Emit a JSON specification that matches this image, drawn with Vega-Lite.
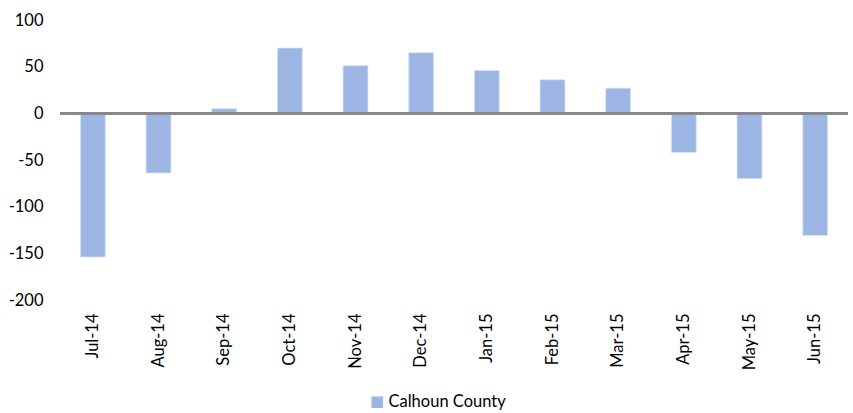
{
  "$schema": "https://vega.github.io/schema/vega-lite/v6.json",
  "width": 788,
  "height": 280,
  "autosize": {"type": "none"},
  "padding": {"left": 60, "top": 20, "right": 5, "bottom": 113},
  "background": "white",
  "config": {
    "view": {"stroke": null},
    "font": "Lato"
  },
  "data": {
    "values": [
      {"month": "Jul-14", "value": -154, "series": "Calhoun County"},
      {"month": "Aug-14", "value": -64, "series": "Calhoun County"},
      {"month": "Sep-14", "value": 5, "series": "Calhoun County"},
      {"month": "Oct-14", "value": 70, "series": "Calhoun County"},
      {"month": "Nov-14", "value": 51, "series": "Calhoun County"},
      {"month": "Dec-14", "value": 65, "series": "Calhoun County"},
      {"month": "Jan-15", "value": 46, "series": "Calhoun County"},
      {"month": "Feb-15", "value": 36, "series": "Calhoun County"},
      {"month": "Mar-15", "value": 27, "series": "Calhoun County"},
      {"month": "Apr-15", "value": -42, "series": "Calhoun County"},
      {"month": "May-15", "value": -70, "series": "Calhoun County"},
      {"month": "Jun-15", "value": -131, "series": "Calhoun County"}
    ]
  },
  "layer": [
    {
      "mark": {"type": "bar", "stroke": "#dce6f6", "strokeWidth": 0.8},
      "encoding": {
        "x": {
          "field": "month", "type": "nominal", "sort": null,
          "scale": {"paddingInner": 0.62, "paddingOuter": 0.31},
          "axis": {"title": null, "labelAngle": -90, "domain": false, "ticks": false, "labelPadding": 13, "labelFontSize": 16.5, "labelColor": "#000000", "labelFont": "Lato"}
        },
        "y": {
          "field": "value", "type": "quantitative",
          "scale": {"domain": [-200, 100], "nice": false},
          "axis": {"title": null, "values": [-200, -150, -100, -50, 0, 50, 100], "labelExpr": "replace(datum.label, '\u2212', '-')", "grid": false, "domain": false, "ticks": false, "labelPadding": 17, "labelFontSize": 16.5, "labelColor": "#000000", "labelFont": "Lato"}
        },
        "color": {
          "field": "series", "type": "nominal",
          "scale": {"range": ["#9db5e3"]},
          "legend": {"title": null, "orient": "none", "legendX": 309, "legendY": 374, "symbolType": "square", "symbolSize": 135, "symbolStrokeWidth": 0, "labelFontSize": 16.5, "labelFont": "Lato", "labelColor": "#000000", "labelOffset": 3}
        }
      }
    },
    {
      "mark": {"type": "rule", "color": "#868686", "strokeWidth": 2},
      "encoding": {"y": {"datum": 0}}
    }
  ]
}
